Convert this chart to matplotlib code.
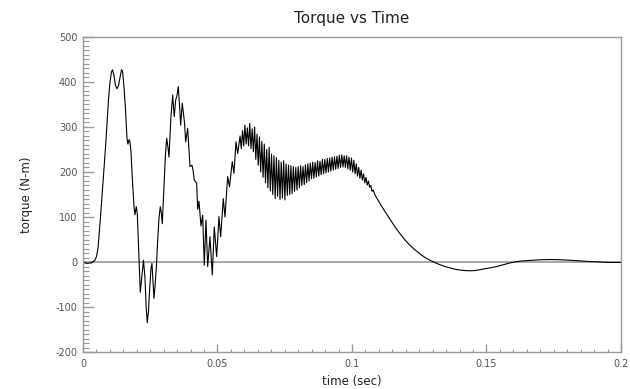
import matplotlib
matplotlib.use("Agg")
import matplotlib.pyplot as plt
from matplotlib.ticker import MultipleLocator
import numpy as np

plt.rcParams["axes.unicode_minus"] = False

# время (мс) и момент (Н·м) по точкам кривой
time_ms = [
    0.00, 1.23, 3.09, 4.35, 5.02, 5.58, 6.32, 7.43, 8.55, 9.48,
    10.04, 10.59, 10.97, 11.52, 12.08, 12.64, 13.20, 13.75, 14.31, 14.68,
    15.24, 15.80, 16.36, 16.73, 17.10, 17.47, 17.84, 18.40, 18.96, 19.33,
    19.81, 20.19, 20.56, 20.93, 21.30, 21.75, 22.49, 23.05, 23.49, 23.90,
    24.35, 24.80, 25.28, 25.65, 26.02, 26.39, 26.77, 27.25, 27.70, 28.25,
    28.74, 29.11, 29.48, 30.11, 30.67, 31.12, 31.60, 31.97, 32.34, 32.71,
    33.35, 33.64, 33.94, 34.46, 34.94, 35.43, 35.87, 36.32, 36.91, 37.36,
    37.73, 38.18, 38.92, 39.41, 39.78, 40.52, 40.89, 41.38, 42.27, 42.64,
    43.12, 43.87, 44.50, 45.09, 45.72, 46.36, 47.21, 48.07, 48.81, 49.70,
    50.56, 51.19, 52.16, 52.79, 53.79, 54.46, 55.50, 56.13, 56.88, 57.51,
    # участок с высокочастотными колебаниями
    58.40, 58.85, 59.30, 59.75, 60.20, 60.65, 61.10, 61.55, 62.00, 62.45,
    62.90, 63.35, 63.80, 64.25, 64.70, 65.15, 65.60, 66.05, 66.50, 66.95,
    67.40, 67.85, 68.30, 68.75, 69.20, 69.65, 70.10, 70.55, 71.00, 71.45,
    71.90, 72.35, 72.80, 73.25, 73.70, 74.15, 74.60, 75.05, 75.50, 75.95,
    76.40, 76.85, 77.30, 77.75, 78.20, 78.65, 79.10, 79.55, 80.00, 80.45,
    80.90, 81.35, 81.80, 82.25, 82.70, 83.15, 83.60, 84.05, 84.50, 84.95,
    85.40, 85.85, 86.30, 86.75, 87.20, 87.65, 88.10, 88.55, 89.00, 89.45,
    89.90, 90.35, 90.80, 91.25, 91.70, 92.15, 92.60, 93.05, 93.50, 93.95,
    94.40, 94.85, 95.30, 95.75, 96.20, 96.65, 97.10, 97.55, 98.00, 98.45,
    98.90, 99.35, 99.80, 100.25, 100.70, 101.15, 101.60, 102.05, 102.50, 102.95,
    103.40, 103.85, 104.30, 104.75, 105.20, 105.65, 106.10, 106.55, 107.00, 107.45,
    107.90,
    # затухание
    108.55, 110.41, 112.27, 114.13, 115.99, 117.84, 119.70, 121.56, 123.42,
    125.28, 127.14, 129.00, 130.86, 132.71, 134.57, 136.43, 138.29, 140.15, 142.01,
    143.86, 145.72, 147.58, 149.44, 151.30, 153.16, 155.02, 156.88, 158.74, 160.59,
    162.45, 166.17, 169.89, 173.61, 177.32, 181.04, 184.76, 188.48, 192.19, 195.91,
    200.00,
]

torque = [
    0, -3, -2, 3, 12, 30, 85, 175, 270, 360,
    400, 422, 427, 415, 392, 385, 392, 410, 427, 425,
    390, 340, 275, 262, 272, 268, 245, 180, 125, 105,
    123, 108, 50, -5, -67, -40, 4, -35, -100, -135,
    -110, -59, -15, -3, -40, -81, -55, -14, 40, 97,
    123, 110, 85, 169, 240, 275, 255, 233, 280, 323,
    371, 345, 323, 360, 370, 390, 350, 304, 353, 330,
    310, 267, 297, 250, 212, 215, 205, 182, 175, 117,
    135, 80, 104, -7, 93, -10, 56, -29, 78, 12,
    101, 56, 141, 100, 190, 167, 223, 197, 267, 241,
    280, 252, 292, 258, 304, 262, 298, 258, 308, 252,
    296, 245, 300, 228, 284, 215, 278, 200, 268, 188,
    262, 176, 250, 165, 255, 158, 240, 150, 236, 141,
    232, 146, 226, 139, 222, 142, 225, 138, 218, 148,
    215, 150, 214, 152, 212, 157, 210, 160, 212, 165,
    214, 170, 212, 172, 216, 176, 218, 180, 220, 185,
    222, 186, 221, 189, 225, 191, 224, 194, 228, 196,
    228, 198, 230, 200, 231, 202, 233, 204, 234, 206,
    235, 208, 237, 210, 238, 211, 236, 210, 236, 207,
    233, 204, 231, 200, 226, 196, 218, 191, 210, 186,
    204, 182, 196, 176, 188, 171, 180, 166, 170, 157,
    160,
    149, 130, 112, 95, 78, 63, 49, 37, 27,
    18, 10, 4, -1.5, -6, -10, -13, -16, -18, -19,
    -19.5, -19, -17, -15, -13, -11, -8, -5, -2, 0,
    2, 3.5, 5, 5.5, 5, 4, 2.5, 1, 0, -1,
    -1,
]

t = np.array(time_ms) / 1000.0

fig = plt.figure(figsize=(6.3, 3.89), dpi=100)
ax = fig.add_axes([0.1317, 0.0951, 0.8540, 0.8098])

grey = "#9a9a9a"
ax.axhline(0, color="#a8a8a8", lw=1.4, zorder=1)
ax.plot(t, torque, color="black", lw=0.8, zorder=2)

ax.set_xlim(0, 0.2)
ax.set_ylim(-200, 500)

for s in ax.spines.values():
    s.set_color(grey)
    s.set_linewidth(1.0)

ax.xaxis.set_minor_locator(MultipleLocator(0.005))
ax.yaxis.set_major_locator(MultipleLocator(100))
ax.yaxis.set_minor_locator(MultipleLocator(10))
ax.set_xticks([0, 0.05, 0.1, 0.15, 0.2])
ax.set_xticklabels(["0", "0.05", "0.1", "0.15", "0.2"])

ax.tick_params(axis="both", which="both", direction="in", color=grey,
               labelcolor="#555555", labelsize=7)
ax.tick_params(axis="y", which="major", length=8, width=1.0, pad=4)
ax.tick_params(axis="y", which="minor", length=4, width=0.8)
ax.tick_params(axis="x", which="major", length=6, width=1.0, pad=5)
ax.tick_params(axis="x", which="minor", length=2.5, width=0.8)

ax.set_title("Torque vs Time", fontsize=11, color="#222222", pad=10)
ax.set_xlabel("time (sec)", fontsize=8.5, color="#222222", labelpad=4)
ax.set_ylabel("torque (N-m)", fontsize=8.5, color="#222222", labelpad=16)

fig.savefig("out.png", dpi=100)
